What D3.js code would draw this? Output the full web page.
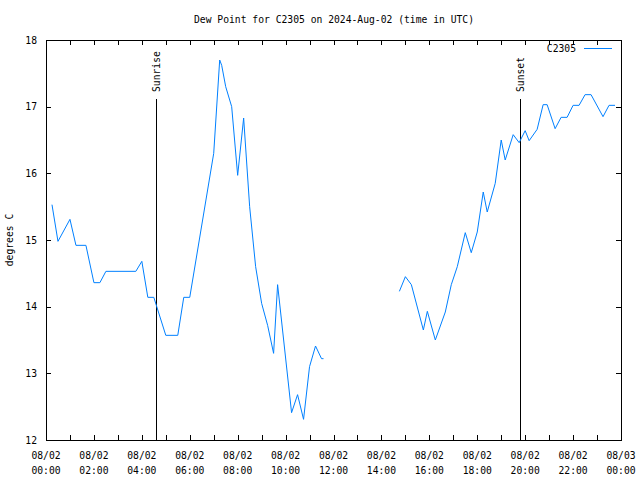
<!DOCTYPE html>
<html><head><meta charset="utf-8">
<script src="https://cdn.jsdelivr.net/npm/d3@7"></script>
<style>
body{margin:0;background:#fff;}
text{font-family:"DejaVu Sans Mono",monospace;font-size:9.7px;fill:#000;}
</style></head>
<body><svg id="c" width="640" height="480"></svg>
<script>
const titleText = "Dew Point for C2305 on 2024-Aug-02 (time in UTC)";
const seriesName = "C2305";
const yLabel = "degrees C";
const dayStart = "2024-08-02T00:00Z";
const dayEnd = "2024-08-03T00:00Z";
const times = ["00:15","00:30","01:00","01:15","01:40","02:00","02:15","02:30","03:45","04:00",
 "04:15","04:30","05:00","05:30","05:45","06:00","07:00","07:15","07:20","07:30",
 "07:45","08:00","08:15","08:30","08:45","09:00","09:15","09:30","09:40","10:15",
 "10:30","10:45","11:00","11:15","11:30","11:35","13:00",
 "14:45","15:00","15:15","15:45","15:55","16:15","16:40","16:55","17:10",
 "17:30","17:45","18:00","18:15","18:25","18:45","19:00","19:10","19:30","19:45",
 "20:00","20:10","20:30","20:45","20:55","21:15","21:30","21:45","22:00","22:15",
 "22:30","22:45","23:15","23:30","23:45"];
const dewPoint = [15.53,14.98,15.31,14.92,14.92,14.36,14.36,14.53,14.53,14.68,
 14.14,14.14,13.57,13.57,14.14,14.14,16.3,17.7,17.62,17.3,
 17.0,15.97,16.83,15.5,14.6,14.05,13.72,13.3,14.33,12.41,
 12.68,12.31,13.1,13.41,13.22,13.22,null,
 14.23,14.45,14.33,13.65,13.93,13.5,13.92,14.33,14.6,
 15.11,14.81,15.12,15.72,15.42,15.85,16.5,16.2,16.58,16.46,
 16.64,16.49,16.66,17.03,17.03,16.67,16.84,16.84,17.02,17.02,
 17.18,17.18,16.85,17.02,17.02];
const yTicks = [12,13,14,15,16,17,18];
const sunEvents = [{label:"Sunrise", time:"04:35"},{label:"Sunset", time:"19:48"}];

const svg = d3.select("#c");
const L=46, R=621, T=40, B=440;
const parse = t => new Date("2024-08-02T" + t + ":00Z");
const x = d3.scaleUtc().domain([new Date(dayStart), new Date(dayEnd)]).range([L, R]);
const y = d3.scaleLinear().domain([12,18]).range([B, T]);

const data = times.map((t,i)=>({t:parse(t), v:dewPoint[i]}));
const hourly = d3.utcHour.every(1).range(new Date(dayStart), d3.utcHour.offset(new Date(dayEnd),1));
const major = d3.utcHour.every(2).range(new Date(dayStart), d3.utcHour.offset(new Date(dayEnd),1));

// bottom axis ticks (inward)
const gb = svg.append("g").attr("transform",`translate(0,${B})`)
  .call(d3.axisBottom(x).tickValues(hourly).tickSize(-5).tickFormat(""));
const gt = svg.append("g").attr("transform",`translate(0,${T})`)
  .call(d3.axisTop(x).tickValues(hourly).tickSize(-5).tickFormat(""));
const gl = svg.append("g").attr("transform",`translate(${L},0)`)
  .call(d3.axisLeft(y).tickValues(yTicks).tickSize(-5).tickFormat(d3.format("d")).tickPadding(9));
const gr = svg.append("g").attr("transform",`translate(${R},0)`)
  .call(d3.axisRight(y).tickValues(yTicks).tickSize(-5).tickFormat(""));
[gb,gt,gl,gr].forEach(g=>{g.selectAll("path,line").attr("stroke","#000").attr("shape-rendering","crispEdges");
  g.selectAll("text").style("font-family","DejaVu Sans Mono, monospace").style("font-size","9.7px");});
gl.select(".domain").remove(); gr.select(".domain").remove(); gb.select(".domain").remove(); gt.select(".domain").remove();
svg.append("rect").attr("x",L+0.5).attr("y",T+0.5).attr("width",R-L).attr("height",B-T)
  .attr("fill","none").attr("stroke","#000").attr("shape-rendering","crispEdges");

// bottom labels
const fmtD = d3.utcFormat("%m/%d"), fmtH = d3.utcFormat("%H:%M");
const lab = svg.append("g").selectAll("text").data(major).join("text")
  .attr("text-anchor","middle").attr("x",d=>x(d));
lab.append("tspan").attr("x",d=>x(d)).attr("y",459).text(d=>fmtD(d));
lab.append("tspan").attr("x",d=>x(d)).attr("y",474).text(d=>fmtH(d));

// sun lines
sunEvents.forEach(e=>{
  const xx = Math.round(x(parse(e.time)))+0.5;
  svg.append("line").attr("x1",xx).attr("x2",xx).attr("y1",99).attr("y2",B)
    .attr("stroke","#000").attr("shape-rendering","crispEdges");
  svg.append("text").attr("transform",`translate(${xx},92) rotate(-90)`)
    .attr("dy","0.35em").attr("text-anchor","start").text(e.label);
});

// data line
const line = d3.line().defined(d=>d.v!==null).x(d=>x(d.t)).y(d=>y(d.v));
svg.append("path").datum(data).attr("d",line).attr("fill","none")
  .attr("stroke","#0080ff").attr("stroke-width",1);

// title, y label
svg.append("text").attr("x",(L+R)/2+0.5).attr("y",23).attr("text-anchor","middle").text(titleText);
svg.append("text").attr("transform","translate(13,240) rotate(-90)").attr("text-anchor","middle").text(yLabel);

// legend
svg.append("text").attr("x",576).attr("y",52).attr("text-anchor","end").text(seriesName);
svg.append("line").attr("x1",584).attr("x2",612).attr("y1",48.5).attr("y2",48.5)
  .attr("stroke","#0080ff").attr("shape-rendering","crispEdges");
</script></body></html>
